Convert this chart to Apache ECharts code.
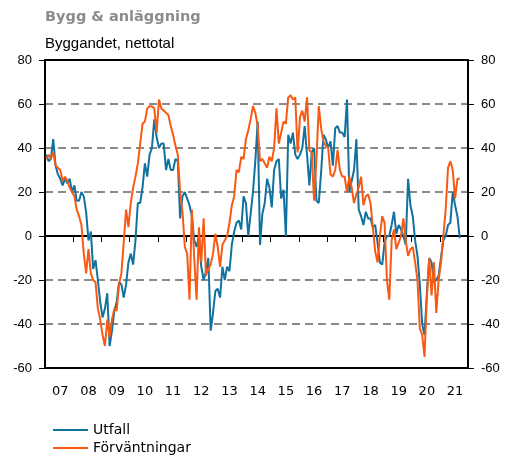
<!DOCTYPE html>
<html><head><meta charset="utf-8">
<script src="https://cdn.jsdelivr.net/npm/echarts@6/dist/echarts.min.js"></script>
<style>html,body{margin:0;padding:0;background:#fff}#c{width:506px;height:455px}</style>
</head><body><div id="c"></div>
<script>
const startYear = 2007;
const yearLabels = ['07','08','09','10','11','12','13','14','15','16','17','18','19','20','21'];
const utfall = [
 37, 34, 35, 44, 32, 28, 26, 23, 26, 24, 26, 20,
 23, 16, 16, 20, 18, 11, -2, 2, -15, -11, -20, -30,
 -37, -33, -26, -50, -43, -34, -30, -21, -22, -28, -22, -12,
 -8, -13, -2, 15, 15, 22, 33, 27, 37, 40, 53, 45,
 40, 42, 42, 30, 35, 30, 30, 35, 34, 8, 18, 20,
 17, 14, 9, -2, -5, 0, -14, -20, -16, -10, -43, -35,
 -25, -24, -28, -14, -20, -14, -16, -4, 2, 6, 7, 3,
 18, 15, 0, 10, 20, 34, 52, -4, 10, 15, 26, 22,
 13, 30, 34, 35, 17, 21, 0, 46, 42, 47, 37, 35,
 37, 40, 50, 37, 23, 38, 40, 16, 15, 29, 46, 44,
 40, 43, 32, 49, 50, 47, 47, 45, 62, 20, 25, 30,
 44, 12, 9, 5, 11, 8, 8, 4, 5, -3, -12, -13,
 -3, 0, 0, 5, 11, 1, 5, 3, 0, -4, 26, 14,
 9, -2, -9, -22, -40, -45, -26, -10, -12, -21, -20, -18,
 -10, -2, 0, 5, 6, 20, 14, 9, -1
];
const forvantningar = [
 35, 37, 35, 38, 32, 31, 30, 25, 27, 25, 22, 20,
 18, 12, 9, 5, -8, -17, -6, -17, -20, -21, -33, -38,
 -45, -50, -38, -46, -38, -33, -34, -22, -17, -3, 12, 4,
 15, 22, 27, 33, 42, 51, 52, 58, 59, 59, 58, 47,
 62, 58, 57, 56, 55, 50, 46, 41, 37, 20, 11, -5,
 -8, -29, 12, -10, -29, 4, -12, 8, -18, -15, -13, -8,
 1, -5, -14, -4, -2, 0, 6, 14, 18, 30, 29, 36,
 35, 44, 48, 53, 59, 56, 50, 34, 35, 33, 31, 36,
 34, 40, 58, 42, 47, 52, 51, 63, 64, 62, 63, 38,
 54, 57, 52, 63, 39, 38, 16, 35, 59, 49, 43, 41,
 40, 28, 27, 30, 39, 30, 27, 27, 20, 27, 22, 15,
 19, 22, 27, 14, 18, 19, 15, 4, -7, -12, 0, 9,
 6, -20, -29, -2, 3, -6, -3, 0, 8, -2, -9, -6,
 -5, -12, -20, -42, -45, -55, -28, -10, -27, -12, -35, -20,
 -12, 0, 12, 31, 34, 30, 17, 26, 26
];
const categories = [];
yearLabels.forEach(function (y, i) {
  for (let m = 1; m <= 12; m++) categories.push((startYear + i) + '-' + String(m).padStart(2, '0'));
});
const BLUE = '#11729f', ORANGE = '#f85a14', GRID = '#8a8a8a', T = 'rgba(0,0,0,0)';

const chart = echarts.init(document.getElementById('c'), null, {renderer: 'canvas'});
const yBase = {
  type: 'value', min: -60, max: 80, interval: 20,
  axisLine: {show: true, lineStyle: {color: '#000', width: 2}},
  axisTick: {show: true, length: 6, lineStyle: {color: '#000', width: 1}},
  axisLabel: {margin: 13, fontFamily: 'Liberation Sans', fontSize: 13, color: '#000'}
};
chart.setOption({
  animation: false,
  backgroundColor: '#fff',
  title: [
    {text: 'Bygg & anläggning', left: 45, top: 10, padding: 0,
     textStyle: {fontFamily: 'DejaVu Sans', fontWeight: 'bold', fontSize: 14.5, color: '#8c8c8c'}},
    {text: 'Byggandet, nettotal', left: 45, top: 36, padding: 0,
     textStyle: {fontFamily: 'Liberation Sans', fontWeight: 'normal', fontSize: 15, color: '#000'}}
  ],
  grid: {left: 45, right: 38, top: 60, bottom: 87, show: true, borderColor: '#000', borderWidth: 2, backgroundColor: T},
  legend: {
    orient: 'vertical', left: 53, top: 423, itemWidth: 35, itemHeight: 2, itemGap: 4, itemTextGap: 10,
    icon: 'rect', padding: 0,
    textStyle: {fontFamily: 'DejaVu Sans', fontSize: 14, color: '#000'},
    data: ['Utfall', 'Förväntningar']
  },
  xAxis: {
    type: 'category', data: categories, boundaryGap: true,
    axisLine: {show: true, lineStyle: {color: '#000', width: 2}},
    axisTick: {show: true, interval: function (i) { return i % 12 === 0; }, length: 6, lineStyle: {color: '#000', width: 1}},
    axisLabel: {interval: function (i) { return i % 12 === 6; },
      formatter: function (v) { return yearLabels[parseInt(v.slice(0, 4), 10) - startYear]; },
      margin: 17, fontFamily: 'DejaVu Sans', fontSize: 13, color: '#000'},
    splitLine: {show: false}
  },
  yAxis: [
    Object.assign({}, yBase, {position: 'left',
      splitLine: {show: true, lineStyle: {color: [T, GRID, GRID, T, GRID, GRID, GRID, T], type: [8, 5], width: 2}}}),
    Object.assign({}, yBase, {position: 'right',
      splitLine: {show: true, lineStyle: {color: [T, T, T, '#808080', T, T, T, T], type: 'solid', width: 2}}})
  ],
  series: [
    {name: 'Utfall', type: 'line', data: utfall, symbol: 'none', lineStyle: {color: BLUE, width: 2}, itemStyle: {color: BLUE}},
    {name: 'Förväntningar', type: 'line', data: forvantningar, symbol: 'none', lineStyle: {color: ORANGE, width: 2}, itemStyle: {color: ORANGE}}
  ]
});
</script></body></html>
